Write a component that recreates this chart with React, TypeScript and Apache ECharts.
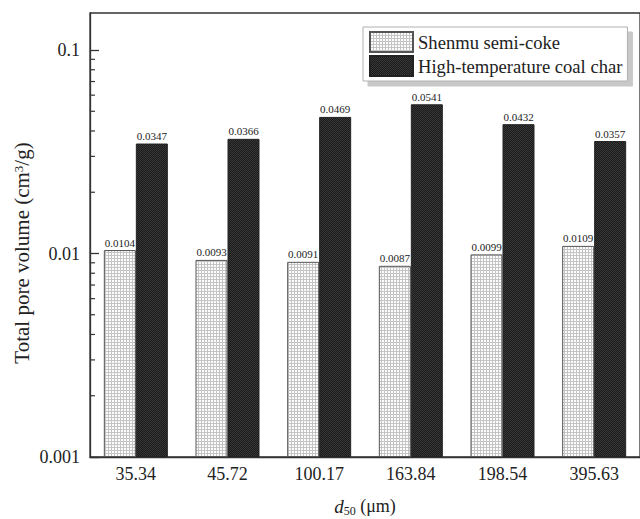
import React, { useEffect, useRef } from "react";
import * as echarts from "echarts";

const categories = ["35.34", "45.72", "100.17", "163.84", "198.54", "395.63"];
const shenmu = [0.0104, 0.0093, 0.0091, 0.0087, 0.0099, 0.0109];
const highTemp = [0.0347, 0.0366, 0.0469, 0.0541, 0.0432, 0.0357];
const yTickLabels = ["0.001", "0.01", "0.1"];
const yMinExp = -3;
const yMaxValue = 0.152;
const minorTickValues = [
  0.002, 0.003, 0.004, 0.005, 0.006, 0.007, 0.008, 0.009,
  0.02, 0.03, 0.04, 0.05, 0.06, 0.07, 0.08, 0.09,
];

const FONT = "Liberation Serif";

function toLog(v: number) {
  return Math.log10(v) - yMinExp;
}

function makePattern(kind: "light" | "dark"): string {
  const c = document.createElement("canvas");
  if (kind === "light") {
    c.width = 3;
    c.height = 3;
    const ctx = c.getContext("2d")!;
    ctx.fillStyle = "#fcfcfc";
    ctx.fillRect(0, 0, 3, 3);
    ctx.fillStyle = "#c4c4c4";
    ctx.fillRect(0, 0, 3, 1);
    ctx.fillRect(0, 0, 1, 3);
  } else {
    c.width = 2;
    c.height = 2;
    const ctx = c.getContext("2d")!;
    ctx.fillStyle = "#1a1a1a";
    ctx.fillRect(0, 0, 2, 2);
    ctx.fillStyle = "#383838";
    ctx.fillRect(0, 0, 1, 1);
    ctx.fillRect(1, 1, 1, 1);
  }
  return c.toDataURL();
}

export default function App() {
  const ref = useRef<HTMLDivElement>(null);

  useEffect(() => {
    document.body.style.margin = "0";
    if (!ref.current) return;
    const chart = echarts.init(ref.current, undefined, { renderer: "svg" });

    const lightImg = new Image();
    lightImg.src = makePattern("light");
    const darkImg = new Image();
    darkImg.src = makePattern("dark");

    const gridLeft = 90;
    const gridTop = 13;
    const gridWidth = 551;
    const gridHeight = 444;

    const option: any = {
      animation: false,
      backgroundColor: "#ffffff",
      textStyle: { fontFamily: FONT },
      grid: {
        left: gridLeft,
        top: gridTop,
        width: gridWidth,
        height: gridHeight,
        show: true,
        borderColor: "#333",
        borderWidth: 1.3,
        backgroundColor: "transparent",
      },
      legend: {
        orient: "vertical",
        left: 363,
        top: 27,
        itemWidth: 43,
        itemHeight: 20,
        itemGap: 2,
        padding: [4, 5, 4, 6],
        icon: "rect",
        backgroundColor: "#ffffff",
        borderColor: "#b0b0b0",
        borderWidth: 1,
        shadowColor: "#c8c8c8",
        shadowOffsetX: 5,
        shadowOffsetY: 5,
        shadowBlur: 0,
        textStyle: { fontFamily: FONT, fontSize: 18.6, color: "#222" },
        data: ["Shenmu semi-coke", "High-temperature coal char"],
      },
      xAxis: {
        type: "category",
        data: categories,
        axisLine: { show: true, lineStyle: { color: "#333", width: 1.3 } },
        axisTick: { show: false },
        axisLabel: { fontFamily: FONT, fontSize: 18, color: "#222", margin: 8 },
      },
      yAxis: {
        type: "value",
        min: 0,
        max: toLog(yMaxValue),
        interval: 1,
        splitLine: { show: false },
        axisLine: { show: true, lineStyle: { color: "#333", width: 1.3 } },
        axisTick: { show: true, inside: true, length: 9, lineStyle: { color: "#333", width: 1.3 } },
        axisLabel: {
          fontFamily: FONT,
          fontSize: 18,
          color: "#222",
          margin: 10,
          showMaxLabel: false,
          formatter: (v: number) => {
            const i = Math.round(v);
            return Math.abs(v - i) < 1e-6 && yTickLabels[i] ? yTickLabels[i] : "";
          },
        },
      },
      graphic: [
        {
          type: "text",
          x: 22,
          y: 253,
          rotation: Math.PI / 2,
          style: {
            text: "Total pore volume (cm{sup|3}/g)",
            fontFamily: FONT,
            fontSize: 21,
            fill: "#222",
            align: "center",
            verticalAlign: "middle",
            rich: {
              sup: { fontFamily: FONT, fontSize: 13, lineHeight: 13, verticalAlign: "top", fill: "#222" },
            },
          },
        },
        {
          type: "text",
          x: 365,
          y: 506,
          style: {
            text: "{it|d}{sub|50} (μm)",
            fontFamily: FONT,
            fontSize: 18,
            lineHeight: 22,
            fill: "#222",
            align: "center",
            verticalAlign: "middle",
            rich: {
              it: { fontFamily: FONT, fontSize: 19, fontStyle: "italic", lineHeight: 22, fill: "#222" },
              sub: { fontFamily: FONT, fontSize: 12, lineHeight: 12, verticalAlign: "bottom", fill: "#222" },
            },
          },
        },
      ],
      series: [
        {
          name: "Shenmu semi-coke",
          type: "bar",
          barWidth: 32,
          barGap: "0%",
          data: shenmu.map(toLog),
          itemStyle: {
            color: { image: lightImg, repeat: "repeat" },
            borderColor: "#555",
            borderWidth: 1,
          },
          label: {
            show: true,
            position: "top",
            distance: 2,
            fontFamily: FONT,
            fontSize: 11,
            color: "#222",
            formatter: (p: any) => shenmu[p.dataIndex].toFixed(4),
          },
        },
        {
          name: "High-temperature coal char",
          type: "bar",
          barWidth: 32,
          barGap: "0%",
          data: highTemp.map(toLog),
          itemStyle: {
            color: { image: darkImg, repeat: "repeat" },
            borderColor: "#222",
            borderWidth: 1,
          },
          label: {
            show: true,
            position: "top",
            distance: 2,
            fontFamily: FONT,
            fontSize: 11,
            color: "#222",
            formatter: (p: any) => highTemp[p.dataIndex].toFixed(4),
          },
        },
        {
          name: "minorTicks",
          type: "custom",
          silent: true,
          clip: false,
          z: 10,
          data: minorTickValues.map((v) => [0, toLog(v)]),
          encode: { x: 0, y: 1 },
          renderItem: (params: any, api: any) => {
            const y = api.coord([0, api.value(1)])[1];
            const x = params.coordSys.x;
            return {
              type: "line",
              shape: { x1: x, y1: y, x2: x + 5, y2: y },
              style: { stroke: "#333", lineWidth: 1.2 },
            };
          },
        },
      ],
    };

    let disposed = false;
    let loaded = 0;
    const done = () => {
      loaded += 1;
      if (loaded === 2 && !disposed) chart.setOption(option);
    };
    chart.setOption(option);
    lightImg.onload = done;
    darkImg.onload = done;

    return () => {
      disposed = true;
      chart.dispose();
    };
  }, []);

  return <div ref={ref} style={{ width: 640, height: 519 }} />;
}
